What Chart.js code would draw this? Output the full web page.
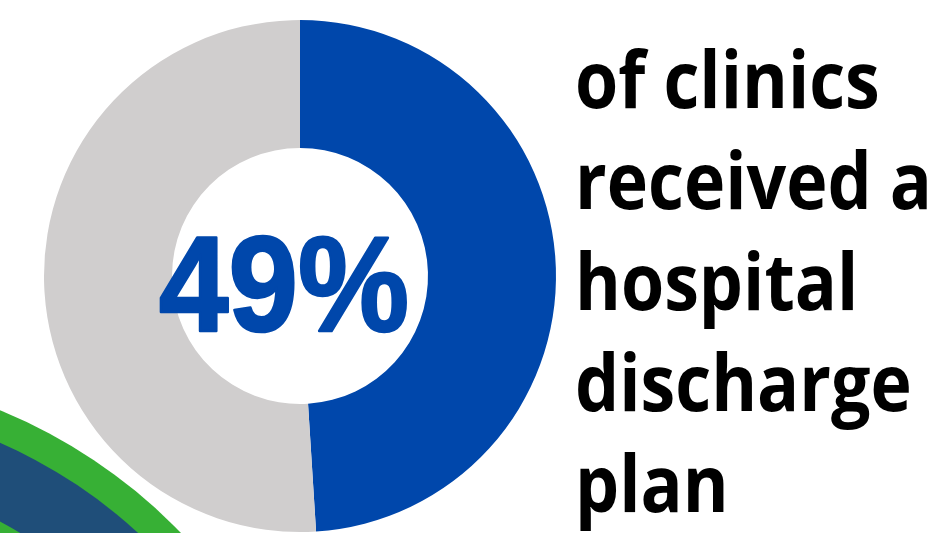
<!DOCTYPE html>
<html>
<head>
<meta charset="utf-8">
<script src="https://cdn.jsdelivr.net/npm/chart.js@4"></script>
<style>
  html, body { margin: 0; padding: 0; background: #fff; }
  #wrap { position: relative; width: 941px; height: 533px; }
</style>
</head>
<body>
<div id="wrap"><canvas id="chart" width="941" height="533"></canvas></div>
<script>
// ---------- DATA ----------
const labels = ["Received discharge plan", "Did not receive"];
const values = [49, 51];
const sliceColors = ["#0047AB", "#D0CECE"];
const centerLabel = "49%";
const captionLines = ["of clinics", "received a", "hospital", "discharge", "plan"];

// ---------- PLUGINS ----------
// decorative swoosh in the bottom-left corner
const cornerArcs = {
  id: "cornerArcs",
  beforeDraw(chart) {
    const ctx = chart.ctx;
    ctx.save();
    const cx = -200, cy = 900;
    ctx.beginPath(); ctx.arc(cx, cy, 529, 0, Math.PI * 2); ctx.fillStyle = "#37B035"; ctx.fill();
    ctx.beginPath(); ctx.arc(cx, cy, 499, 0, Math.PI * 2); ctx.fillStyle = "#1F4E79"; ctx.fill();
    ctx.beginPath(); ctx.arc(cx, cy, 428, 0, Math.PI * 2); ctx.fillStyle = "#37B035"; ctx.fill();
    ctx.restore();
  }
};

// big number in the hole + caption on the right
const textBlocks = {
  id: "textBlocks",
  afterDraw(chart) {
    const ctx = chart.ctx;
    const arc = chart.getDatasetMeta(0).data[0];
    ctx.save();
    ctx.fillStyle = sliceColors[0];
    ctx.strokeStyle = sliceColors[0];
    ctx.lineJoin = "round";
    ctx.lineWidth = 2.5;
    ctx.font = "bold 130px 'Liberation Sans', Arial, sans-serif";
    ctx.textAlign = "center";
    ctx.textBaseline = "alphabetic";
    const w = ctx.measureText(centerLabel).width;
    const sx = 250 / w;
    ctx.translate(arc.x - 16, arc.y + 55);
    ctx.scale(sx, 1.04);
    ctx.fillText(centerLabel, 0, 0);
    ctx.strokeText(centerLabel, 0, 0);
    ctx.restore();

    ctx.save();
    ctx.fillStyle = "#000";
    ctx.font = "bold 78px 'Open Sans', sans-serif";
    ctx.textAlign = "left";
    const scale = 357 / ctx.measureText(captionLines[1]).width;
    captionLines.forEach((line, i) => {
      ctx.save();
      ctx.translate(575, 108 + i * 101);
      ctx.scale(scale, 1);
      ctx.fillText(line, 0, 0);
      ctx.restore();
    });
    ctx.restore();
  }
};

// ---------- CHART ----------
new Chart(document.getElementById("chart"), {
  type: "doughnut",
  data: {
    labels: labels,
    datasets: [{
      data: values,
      backgroundColor: sliceColors,
      borderWidth: 0
    }]
  },
  options: {
    responsive: false,
    animation: false,
    cutout: "50%",
    layout: { padding: { left: 44, right: 385, top: 20, bottom: 1 } },
    plugins: {
      legend: { display: false },
      tooltip: { enabled: false }
    }
  },
  plugins: [cornerArcs, textBlocks]
});
</script>
</body>
</html>
